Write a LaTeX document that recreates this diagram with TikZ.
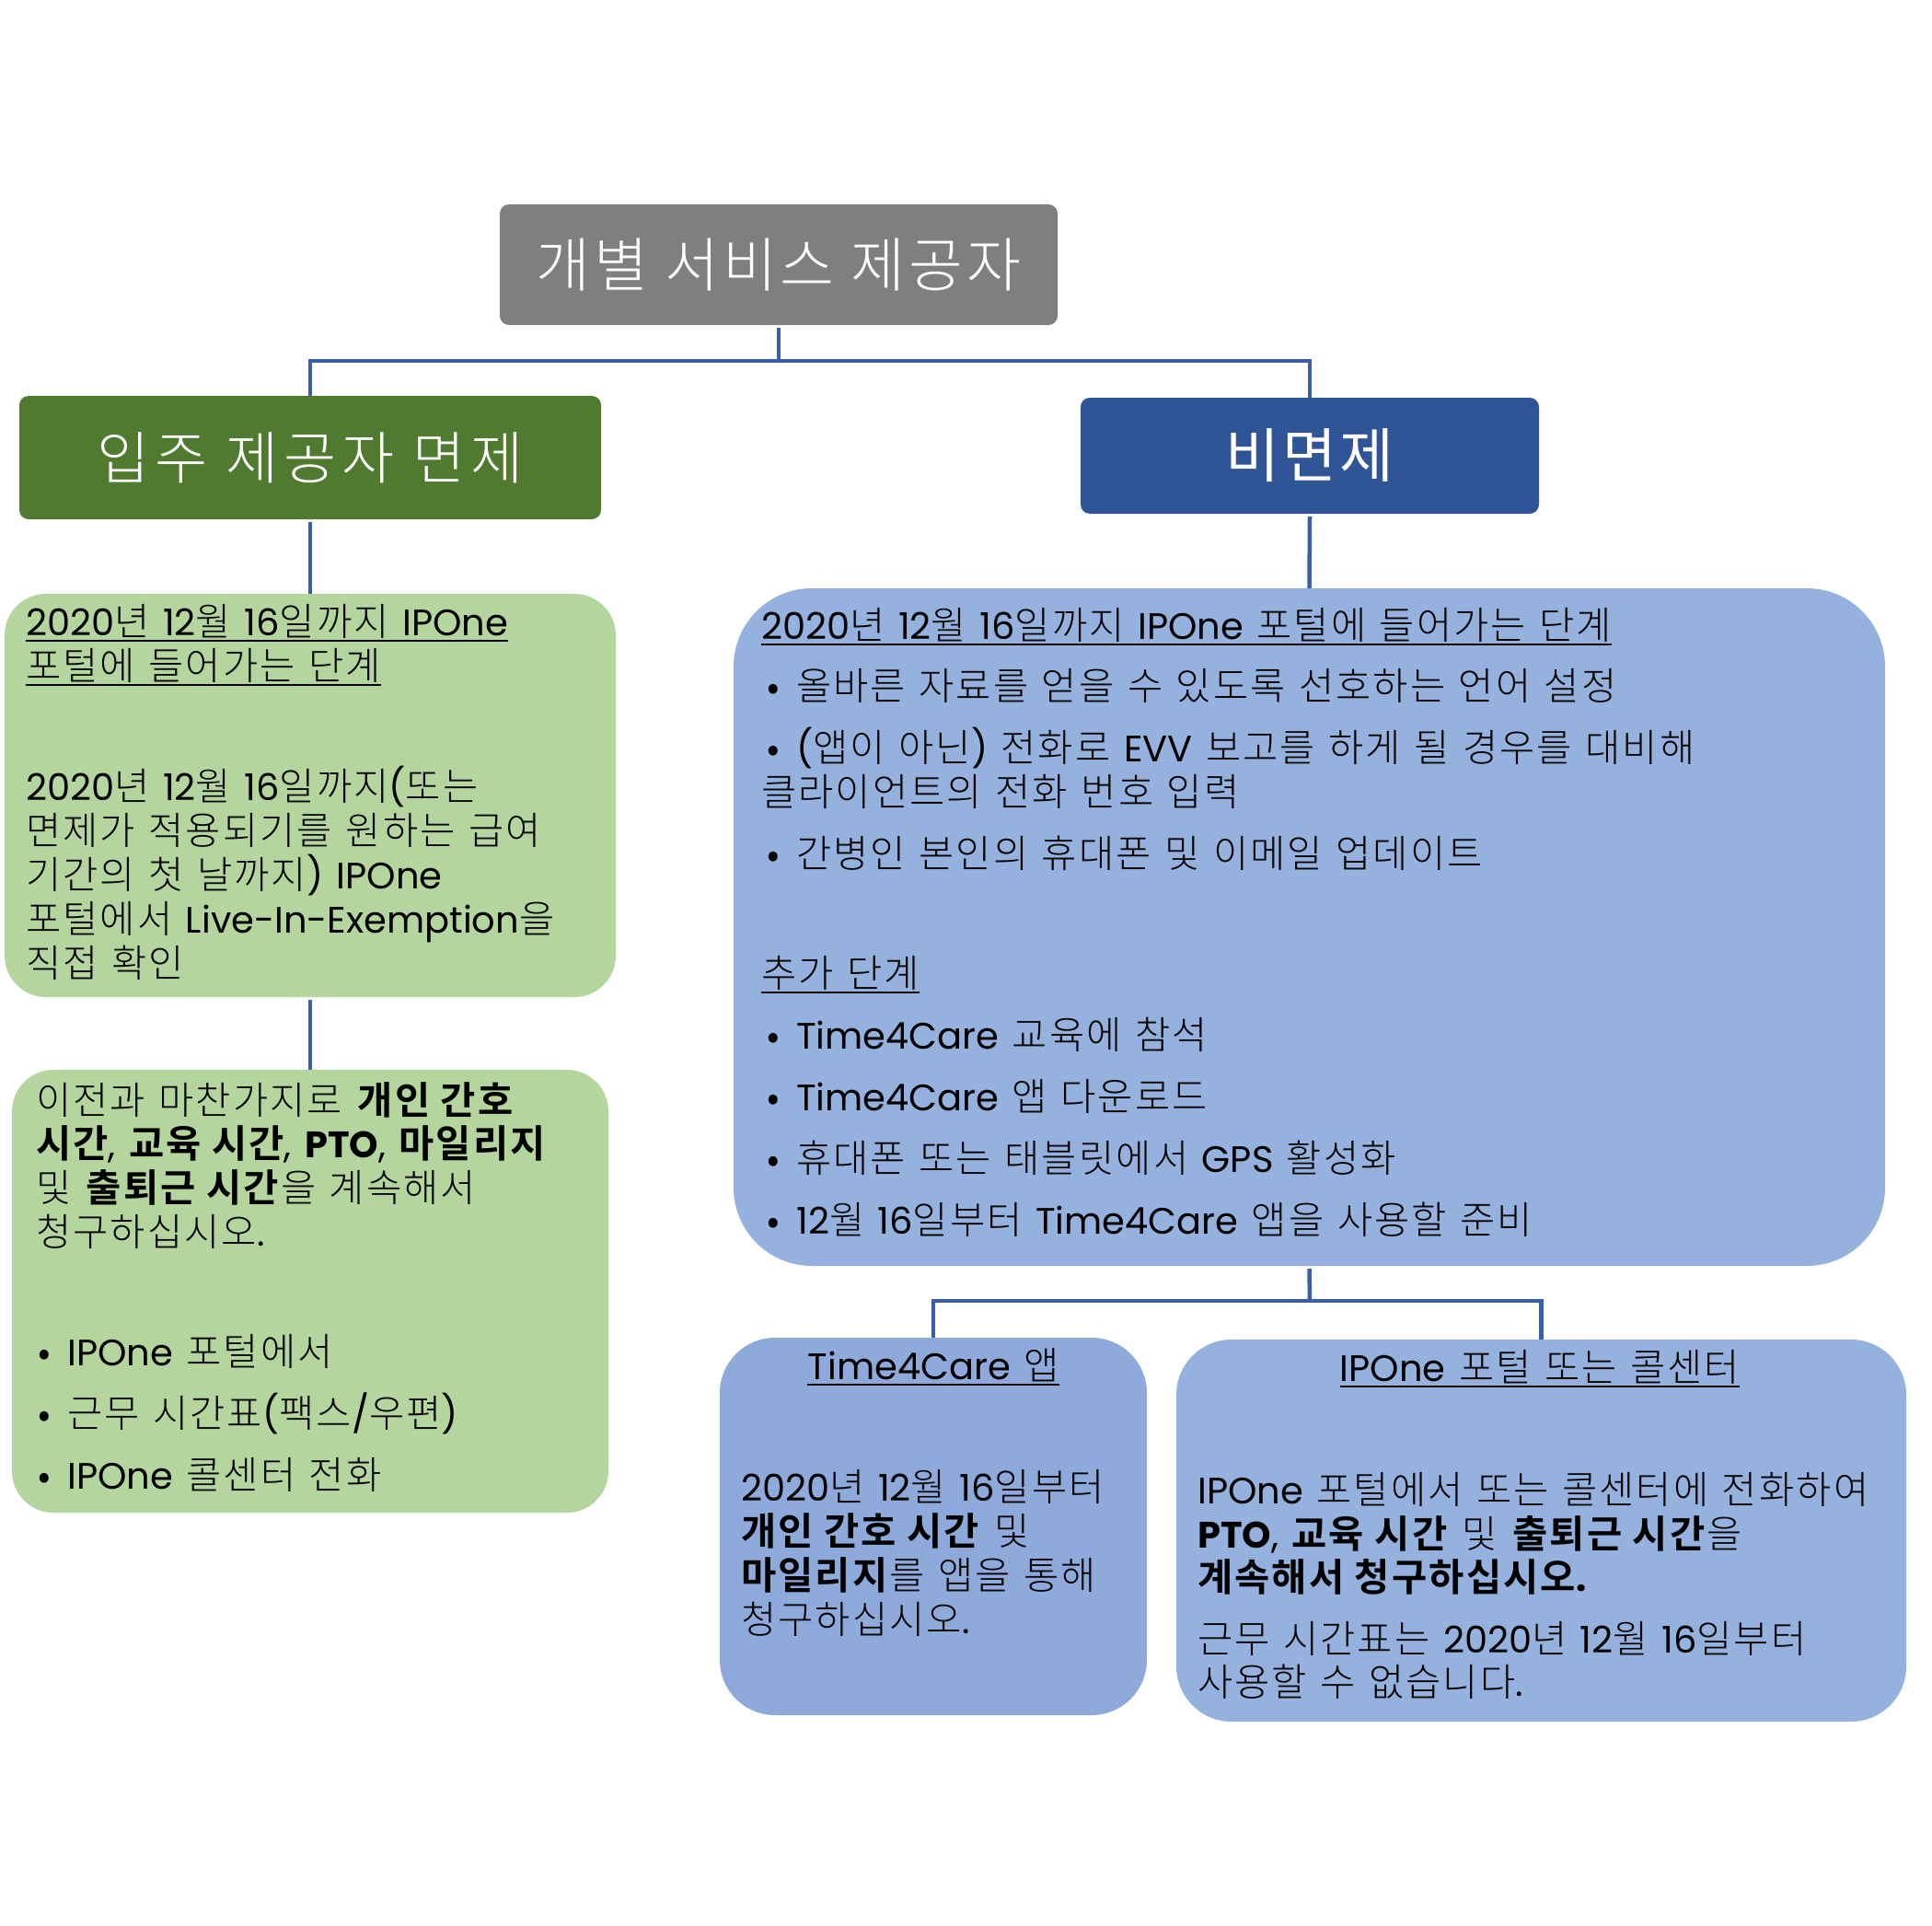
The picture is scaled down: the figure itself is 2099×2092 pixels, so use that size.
\documentclass[tikz,border=0pt]{standalone}
\usepackage{fontspec}
\setmainfont{Poppins}[WordSpace=1.35]
\newfontfamily\latinfont{Poppins}[WordSpace=1.35]
\IfFontExistsTF{Noto Sans CJK KR Light}{%
  \newfontfamily\krfont{Noto Sans CJK KR Light}[Scale=1.04, LetterSpace=5, BoldFont={Noto Sans CJK KR Bold}]%
  \newfontfamily\krtitleA{Noto Sans CJK KR Light}[LetterSpace=6]%
  \newfontfamily\krtitleB{Noto Sans CJK KR Light}[LetterSpace=10]%
}{%
  \newfontfamily\krfont{Noto Sans CJK KR}[Scale=1.04, LetterSpace=5]%
  \newfontfamily\krtitleA{Noto Sans CJK KR}[LetterSpace=6]%
  \newfontfamily\krtitleB{Noto Sans CJK KR}[LetterSpace=10]%
}
\newfontfamily\krtitleC{Noto Sans CJK KR}[LetterSpace=5]
\newfontfamily\krsans{Noto Sans CJK KR}
\XeTeXinterchartokenstate=1
\newXeTeXintercharclass\KRclass
\makeatletter
\count@="AC00
\loop
  \XeTeXcharclass\count@=\KRclass
\ifnum\count@<"D7A3 \advance\count@ 1 \repeat
\makeatother
\XeTeXinterchartoks 0 \KRclass = {\krfont}
\XeTeXinterchartoks 4095 \KRclass = {\krfont}
\XeTeXinterchartoks \KRclass 0 = {\latinfont}
\XeTeXinterchartoks \KRclass 4095 = {\latinfont}
\newcommand\noic{\XeTeXinterchartokenstate=0\relax}
\definecolor{grayc}{RGB}{127,127,127}
\definecolor{dgreen}{RGB}{79,122,48}
\definecolor{dblue}{RGB}{47,85,151}
\definecolor{lgreen}{RGB}{180,214,158}
\definecolor{lblue}{RGB}{149,177,221}
\definecolor{lblueb}{RGB}{142,170,219}
\definecolor{linec}{RGB}{59,94,168}
\newcommand\bul{\makebox[32pt][l]{{\krsans •}}}
\begin{document}
\begin{tikzpicture}[x=1pt,y=-1pt,
  conn/.style={draw=linec, line width=4.5pt},
  titlebox/.style={rounded corners=10pt, text=white, inner sep=0pt},
  bigbox/.style={inner sep=0pt},
  txt/.style={inner sep=0pt, anchor=base west, font=\fontsize{40}{48}\selectfont},
  ctxt/.style={inner sep=0pt, anchor=base, font=\fontsize{40}{48}\selectfont},
  ulline/.style={draw=black, line width=2.5pt}
]
\useasboundingbox (0,0) rectangle (2099,2092);
\fill[white] (0,0) rectangle (2099,2092);
\newcommand\ulnode[1]{\draw[ulline] ([yshift=-6pt]#1.base west) -- ([yshift=-6pt]#1.base east);}

% boxes
\node[titlebox, fill=grayc, minimum width=606pt, minimum height=131pt,
  font={\noic\fontsize{64}{66}\selectfont\krtitleA}] (top) at (846,287.5) {개별 서비스 제공자};
\node[titlebox, fill=dgreen, minimum width=632pt, minimum height=134pt,
  font={\noic\fontsize{62}{64}\selectfont\krtitleB}] (gt) at (337,497) {입주 제공자 면제};
\node[titlebox, fill=dblue, minimum width=498pt, minimum height=126pt,
  font={\noic\fontsize{64}{66}\selectfont\krtitleC}] (bt) at (1423,495) {비면제};

\node[bigbox, fill=lgreen, rounded corners=45pt, minimum width=664pt, minimum height=438pt] (g1) at (337,864) {};
\node[bigbox, fill=lgreen, rounded corners=45pt, minimum width=648pt, minimum height=481pt] (g2) at (337,1402.5) {};
\node[bigbox, fill=lblue, rounded corners=85pt, minimum width=1251pt, minimum height=736pt] (bb) at (1422.5,1007) {};
\node[bigbox, fill=lblueb, rounded corners=60pt, minimum width=464pt, minimum height=410pt] (t4) at (1014,1658) {};
\node[bigbox, fill=lblue, rounded corners=60pt, minimum width=793pt, minimum height=415pt] (ip) at (1674.5,1662.5) {};

% connectors
\coordinate (j1) at (846,392);
\coordinate (j2) at (1423,1413);
\draw[conn] ([yshift=-3pt]top.south) -- (j1);
\draw[conn] (j1) -| (gt.north);
\draw[conn] (j1) -| (bt.north);
\draw[conn] ([yshift=-3pt]gt.south) -- (g1.north);
\draw[conn] ([yshift=-3pt]g1.south) -- (g2.north);
\draw[conn] ([yshift=-3pt]bt.south) -- (bb.north);
\draw[conn] ([yshift=-3pt]bb.south) -- (j2);
\draw[conn] (j2) -| (t4.north);
\draw[conn] (j2) -| (ip.north);

% green box 1
\node[txt] (g1a) at (28,690) {2020년 12월 16일까지 IPOne};
\node[txt] (g1b) at (28,738) {포털에 들어가는 단계};
\ulnode{g1a}\ulnode{g1b}
\node[txt] (g1c) at (28,869) {2020년 12월 16일까지(또는};
\node[txt] (g1d) at (28,917) {면제가 적용되기를 원하는 급여};
\node[txt] (g1e) at (28,965) {기간의 첫 날까지) IPOne};
\node[txt] (g1f) at (28,1013) {포털에서 Live-In-Exemption을};
\node[txt] (g1g) at (28,1061) {직접 확인};

% green box 2
\node[txt] (g2a) at (39,1210) {이전과 마찬가지로 \textbf{개인 간호}};
\node[txt] (g2b) at (39,1257) {\textbf{시간}, \textbf{교육 시간}, \textbf{PTO}, \textbf{마일리지}};
\node[txt] (g2c) at (39,1305) {및 \textbf{출퇴근 시간}을 계속해서};
\node[txt] (g2d) at (39,1353) {청구하십시오.};
\node[txt] (g2e) at (41,1483) {\bul IPOne 포털에서};
\node[txt] (g2f) at (41,1550) {\bul 근무 시간표(팩스/우편)};
\node[txt] (g2g) at (41,1617) {\bul IPOne 콜센터 전화};

% big blue box
\node[txt] (b1) at (827,694) {2020년 12월 16일까지 IPOne 포털에 들어가는 단계};
\ulnode{b1}
\node[txt] (b2) at (833,760) {\bul 올바른 자료를 얻을 수 있도록 선호하는 언어 설정};
\node[txt] (b3) at (833,827) {\bul (앱이 아닌) 전화로 EVV 보고를 하게 될 경우를 대비해};
\node[txt] (b4) at (827,875) {클라이언트의 전화 번호 입력};
\node[txt] (b5) at (833,942) {\bul 간병인 본인의 휴대폰 및 이메일 업데이트};
\node[txt] (b6) at (827,1072) {추가 단계};
\ulnode{b6}
\node[txt] (b7) at (833,1139) {\bul Time4Care 교육에 참석};
\node[txt] (b8) at (833,1206) {\bul Time4Care 앱 다운로드};
\node[txt] (b9) at (833,1273) {\bul 휴대폰 또는 태블릿에서 GPS 활성화};
\node[txt] (b10) at (833,1340) {\bul 12월 16일부터 Time4Care 앱을 사용할 준비};

% Time4Care box
\node[ctxt] (t0) at (1014,1498) {Time4Care 앱};
\ulnode{t0}
\node[txt] (t1) at (805,1630) {2020년 12월 16일부터};
\node[txt] (t2) at (805,1678) {\textbf{개인 간호 시간} 및};
\node[txt] (t3) at (805,1726) {\textbf{마일리지}를 앱을 통해};
\node[txt] (t5) at (805,1774) {청구하십시오.};

% IPOne box
\node[ctxt] (p0) at (1673,1500) {IPOne 포털 또는 콜센터};
\ulnode{p0}
\node[txt] (p1) at (1301,1633) {IPOne 포털에서 또는 콜센터에 전화하여};
\node[txt] (p2) at (1301,1681) {\textbf{PTO}, \textbf{교육 시간} 및 \textbf{출퇴근 시간}을};
\node[txt] (p3) at (1301,1728) {\textbf{계속해서 청구하십시오.}};
\node[txt] (p4) at (1301,1795) {근무 시간표는 2020년 12월 16일부터};
\node[txt] (p5) at (1301,1842) {사용할 수 없습니다.};
\end{tikzpicture}
\end{document}
